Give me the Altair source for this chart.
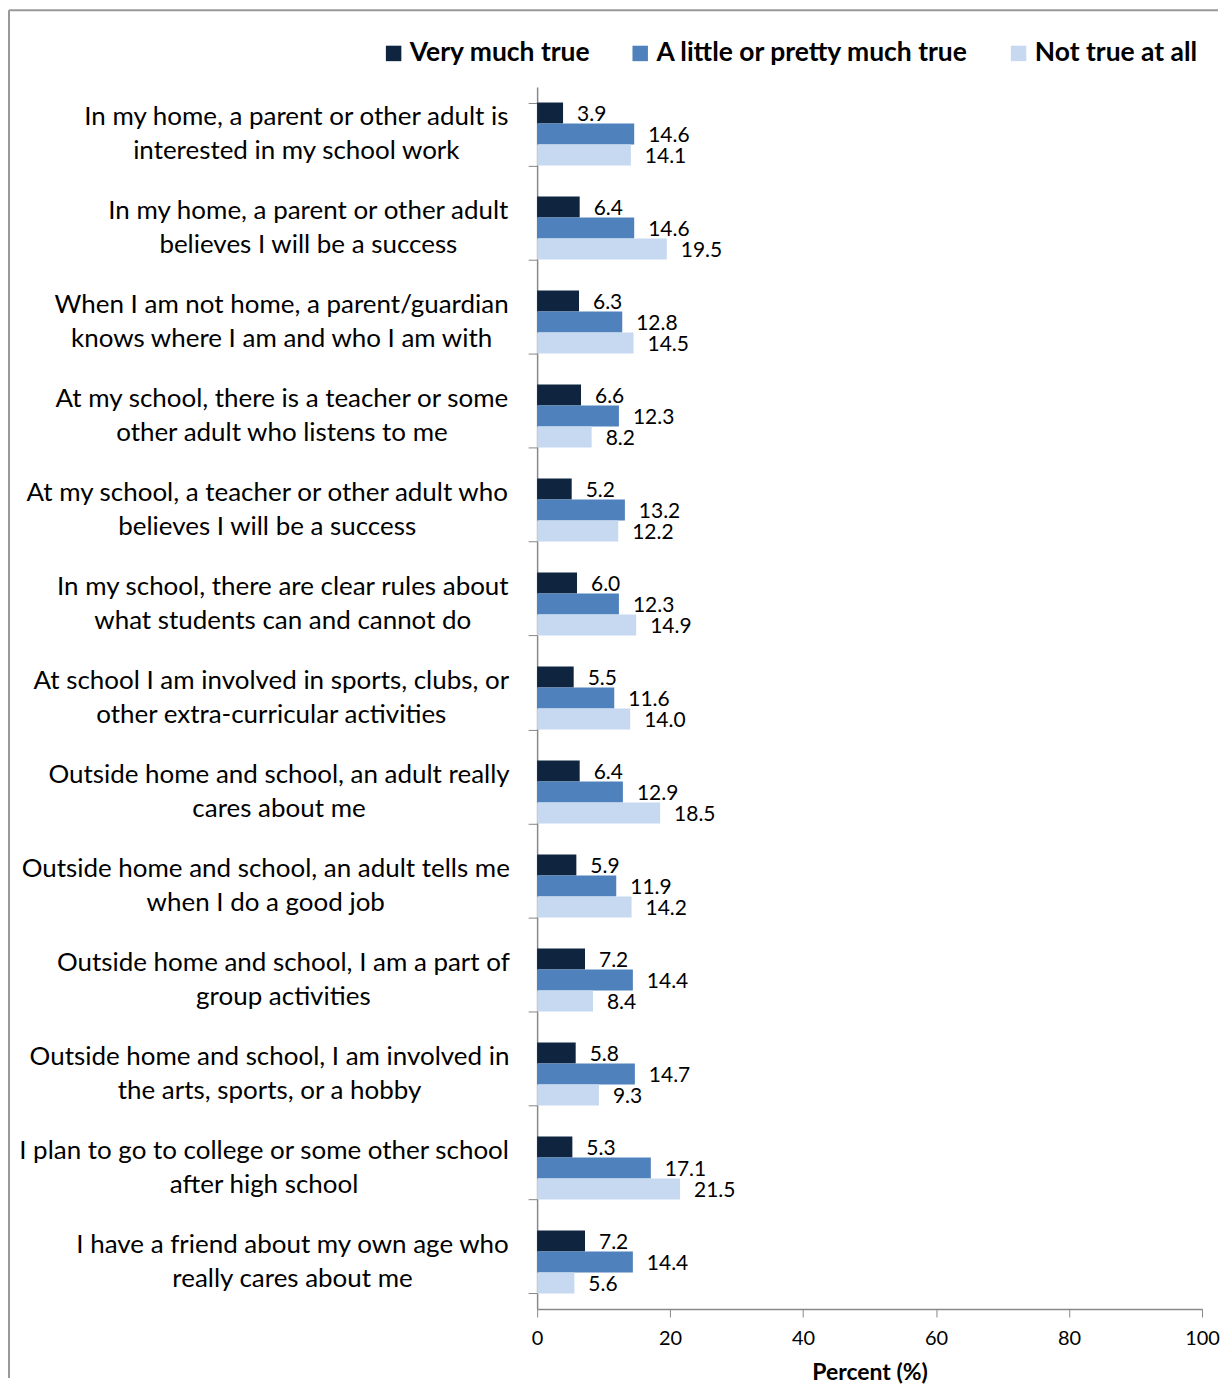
import altair as alt
import pandas as pd
import glob
import struct

# ---------------- data ----------------
line1 = [
    "In my home, a parent or other adult is",
    "In my home, a parent or other adult",
    "When I am not home, a parent/guardian",
    "At my school, there is a teacher or some",
    "At my school, a teacher or other adult who",
    "In my school, there are clear rules about",
    "At school I am involved in sports, clubs, or",
    "Outside home and school, an adult really",
    "Outside home and school, an adult tells me",
    "Outside home and school, I am a part of",
    "Outside home and school, I am involved in",
    "I plan to go to college or some other school",
    "I have a friend about my own age who",
]
line2 = [
    "interested in my school work",
    "believes I will be a success",
    "knows where I am and who I am with",
    "other adult who listens to me",
    "believes I will be a success",
    "what students can and cannot do",
    "other extra-curricular activities",
    "cares about me",
    "when I do a good job",
    "group activities",
    "the arts, sports, or a hobby",
    "after high school",
    "really cares about me",
]
series = ["Very much true", "A little or pretty much true", "Not true at all"]
very_much = [3.9, 6.4, 6.3, 6.6, 5.2, 6.0, 5.5, 6.4, 5.9, 7.2, 5.8, 5.3, 7.2]
a_little = [14.6, 14.6, 12.8, 12.3, 13.2, 12.3, 11.6, 12.9, 11.9, 14.4, 14.7, 17.1, 14.4]
not_true = [14.1, 19.5, 14.5, 8.2, 12.2, 14.9, 14.0, 18.5, 14.2, 8.4, 9.3, 21.5, 5.6]
colors = ["#0F243E", "#4F81BD", "#C6D9F1"]
x_ticks = [0, 20, 40, 60, 80, 100]

categories = [a + "\n" + b for a, b in zip(line1, line2)]

FONT = "Lato"
LABEL_SIZE = 26
LINE_H = 34
PLOT_W = 666
X_MAX = 100


# ---------- text width measurement (for centred two-line labels) ----------
def _parse_font(path):
    data = open(path, "rb").read()
    num = struct.unpack(">H", data[4:6])[0]
    tables = {}
    for i in range(num):
        tag, _cs, off, ln = struct.unpack(">4sIII", data[12 + 16 * i: 28 + 16 * i])
        tables[tag.decode("latin1")] = (off, ln)
    upem = struct.unpack(">H", data[tables["head"][0] + 18: tables["head"][0] + 20])[0]
    nhm = struct.unpack(">H", data[tables["hhea"][0] + 34: tables["hhea"][0] + 36])[0]
    hoff = tables["hmtx"][0]
    adv = [struct.unpack(">H", data[hoff + 4 * i: hoff + 4 * i + 2])[0] for i in range(nhm)]
    coff = tables["cmap"][0]
    n = struct.unpack(">H", data[coff + 2: coff + 4])[0]
    sub = None
    for i in range(n):
        pid, eid, so = struct.unpack(">HHI", data[coff + 4 + 8 * i: coff + 12 + 8 * i])
        fmt = struct.unpack(">H", data[coff + so: coff + so + 2])[0]
        if fmt == 4:
            sub = coff + so
            break
    segx2 = struct.unpack(">H", data[sub + 6: sub + 8])[0]
    seg = segx2 // 2
    ends = struct.unpack(">%dH" % seg, data[sub + 14: sub + 14 + segx2])
    so_ = sub + 16 + segx2
    starts = struct.unpack(">%dH" % seg, data[so_: so_ + segx2])
    do_ = so_ + segx2
    deltas = struct.unpack(">%dh" % seg, data[do_: do_ + segx2])
    ro_ = do_ + segx2
    ros = struct.unpack(">%dH" % seg, data[ro_: ro_ + segx2])

    def glyph(c):
        for i in range(seg):
            if starts[i] <= c <= ends[i]:
                if ros[i] == 0:
                    return (c + deltas[i]) & 0xFFFF
                addr = ro_ + 2 * i + ros[i] + 2 * (c - starts[i])
                g = struct.unpack(">H", data[addr: addr + 2])[0]
                return (g + deltas[i]) & 0xFFFF if g else 0
        return 0

    def width(s):
        return sum(adv[min(glyph(ord(ch)), nhm - 1)] for ch in s) / upem

    return width


def _get_measure():
    pats = ["/usr/share/fonts/**/Lato-Regular.ttf", "/usr/share/fonts/**/Lato-Regular.otf",
            "/usr/local/share/fonts/**/Lato-Regular.ttf", "/usr/share/fonts/**/Lato-Reg*.ttf"]
    for p in pats:
        for path in glob.glob(p, recursive=True):
            try:
                return _parse_font(path)
            except Exception:
                pass
    return lambda s: 0.43 * len(s)


measure = _get_measure()
RIGHT_EDGE = -27  # px left of the axis
# centre of each right-aligned two-line block, expressed in the x scale's units
label_x = [
    (RIGHT_EDGE - max(measure(a), measure(b)) * LABEL_SIZE / 2) * X_MAX / PLOT_W
    for a, b in zip(line1, line2)
]

# ---------------- tables ----------------
rows = []
for s, vals in zip(series, [very_much, a_little, not_true]):
    for c, v in zip(categories, vals):
        rows.append({"category": c, "series": s, "value": v})
df = pd.DataFrame(rows)
lab_df = pd.DataFrame({"category": categories, "value": label_x})

# ---------------- encodings ----------------
y_enc = alt.Y(
    "category:N",
    sort=categories,
    title=None,
    scale=alt.Scale(paddingInner=0.33, paddingOuter=0.165),
    axis=alt.Axis(
        labels=False,
        tickBand="extent",
        tickSize=9,
        tickColor="#888888",
        domainColor="#888888",
        domainWidth=1.5,
    ),
)
yoff = alt.YOffset("series:N", sort=series, scale=alt.Scale(paddingInner=0))
x_enc = alt.X(
    "value:Q",
    scale=alt.Scale(domain=[0, X_MAX], nice=False),
    title="Percent (%)",
    axis=alt.Axis(
        values=x_ticks,
        grid=False,
        labelFlush=False,
        labelFontSize=20,
        labelColor="#000000",
        labelPadding=12,
        tickSize=8,
        tickColor="#888888",
        domainColor="#888888",
        domainWidth=1.5,
        titleFontSize=23,
        titleFontWeight="bold",
        titleColor="#000000",
        titlePadding=13,
    ),
)

bars = alt.Chart(df).mark_bar().encode(
    x=x_enc,
    y=y_enc,
    yOffset=yoff,
    color=alt.Color(
        "series:N",
        sort=series,
        scale=alt.Scale(domain=series, range=colors),
        legend=alt.Legend(
            title=None,
            orient="none",
            direction="horizontal",
            legendX=-157,
            legendY=-47,
            symbolType="square",
            symbolSize=240,
            symbolStrokeWidth=0,
            labelFontSize=26.5,
            labelFontWeight="bold",
            labelColor="#000000",
            labelOffset=3,
            columnPadding=36,
            labelLimit=500,
        ),
    ),
)

values_txt = alt.Chart(df).mark_text(
    align="left", baseline="middle", dx=14, dy=2, fontSize=21, color="#000000"
).encode(
    x=alt.X("value:Q", title="Percent (%)"),
    y=alt.Y("category:N", sort=categories),
    yOffset=yoff,
    text=alt.Text("value:Q", format=".1f"),
)

cat_txt = alt.Chart(lab_df).mark_text(
    align="center", baseline="middle", dy=-LINE_H / 2, fontSize=LABEL_SIZE, lineHeight=LINE_H,
    lineBreak="\n", color="#000000"
).encode(
    x=alt.X("value:Q", title="Percent (%)"),
    y=alt.Y("category:N", sort=categories),
    text="category:N",
)

one = pd.DataFrame({"a": [0]})
frame_top = alt.Chart(one).mark_rule(color="#999999", strokeWidth=2).encode(
    x=alt.value(-529), x2=alt.value(682), y=alt.value(-77)
)
frame_left = alt.Chart(one).mark_rule(color="#999999", strokeWidth=2).encode(
    x=alt.value(-529), y=alt.value(-77), y2=alt.value(1293)
)

chart = (
    alt.layer(frame_top, frame_left, bars, values_txt, cat_txt)
    .properties(width=PLOT_W, height=1224, padding=0)
    .configure(font=FONT)
    .configure_view(stroke=None)
)

chart.save("out.html", embed_options={"renderer": "svg", "actions": False})
